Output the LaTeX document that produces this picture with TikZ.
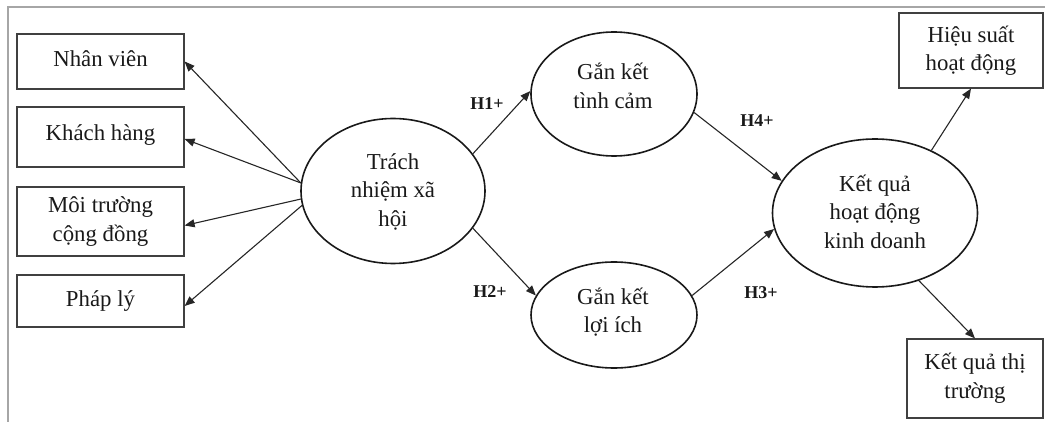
\documentclass[tikz,border=0pt]{standalone}
\usepackage{fontspec}
\setmainfont{Liberation Serif}
\usetikzlibrary{shapes.geometric,arrows.meta}
\newcommand\myfs{\fontsize{22.8}{28.5}\selectfont}
\newcommand\myhfs{\fontsize{18}{21}\selectfont}
\begin{document}
\begin{tikzpicture}[x=1pt,y=-1pt,
 box/.style={draw=black!75, line width=1.2pt, inner sep=0pt, font=\myfs, text=black!90, align=center},
 ell/.style={ellipse, draw=black!90, line width=1.6pt, inner sep=0pt},
 txt/.style={align=center, font=\myfs, text=black!90, inner sep=0pt},
 hl/.style={font=\myhfs\bfseries, text=black!90, inner sep=0pt},
 arr/.style={-{Triangle[length=10pt,width=8pt]}, line width=1.1pt, draw=black!85},
 frame/.style={draw=black!35, line width=1.2pt}]
\useasboundingbox (0,0) rectangle (1045,422);
% frame
\coordinate (fa) at (8,422);
\coordinate (fb) at (8,7);
\coordinate (fc) at (1045,7);
\draw[frame] (fa) -- (fb) -- (fc);
% left boxes
\node[box, minimum width=167, minimum height=55] (nv) at (100.5,61.5) {\raisebox{6pt}{Nhân viên}};
\node[box, minimum width=167, minimum height=60] (kh) at (100.5,137) {\raisebox{8pt}{Khách hàng}};
\node[box, minimum width=167, minimum height=69] (mt) at (100.5,221.5) {Môi trường\\cộng đồng};
\node[box, minimum width=167, minimum height=52] (pl) at (100.5,301) {\raisebox{4pt}{Pháp lý}};
% right boxes
\node[box, minimum width=144, minimum height=75] (hs) at (971,50.5) {Hiệu suất\\hoạt động};
\node[box, minimum width=136, minimum height=79] (kqtt) at (975,378.5) {\raisebox{4pt}{\begin{tabular}{@{}c@{}}Kết quả thị\\trường\end{tabular}}};
% ellipses
\node[ell, minimum width=184, minimum height=145] (tnx) at (393,191) {};
\node[ell, minimum width=166, minimum height=124] (gkt) at (614,94) {};
\node[ell, minimum width=166, minimum height=106] (gkl) at (614,315) {};
\node[ell, minimum width=205, minimum height=148] (kq) at (875,213) {};
% ellipse texts
\node[txt] (tnxt) at (393,191.5) {Trách\\nhiệm xã\\hội};
\node[txt] (gktt) at (613,86) {Gắn kết\\tình cảm};
\node[txt] (gklt) at (613,312) {Gắn kết\\lợi ích};
\node[txt] (kqt) at (875,211.7) {Kết quả\\hoạt động\\kinh doanh};
% labels
\node[hl] (h1) at (487,104) {H1+};
\node[hl] (h2) at (490,292) {H2+};
\node[hl] (h4) at (757,121) {H4+};
\node[hl] (h3) at (761,293) {H3+};
% arrows
\draw[arr] (tnx.175) -- (nv.east);
\draw[arr] (tnx.175) -- ([yshift=-2]kh.east);
\draw[arr] (tnx.185) -- ([yshift=-4]mt.east);
\draw[arr] (tnx.189) -- ([yshift=-5]pl.east);
\draw[arr] (tnx.25) -- (gkt.178);
\draw[arr] (tnx.-25) -- (gkl.166);
\draw[arr] (gkt.-13) -- (kq.161);
\draw[arr] (gkl.14) -- (kq.189);
\draw[arr] (kq.48) -- (hs.south);
\draw[arr] (kq.-57) -- (kqtt.north);
\end{tikzpicture}
\end{document}
